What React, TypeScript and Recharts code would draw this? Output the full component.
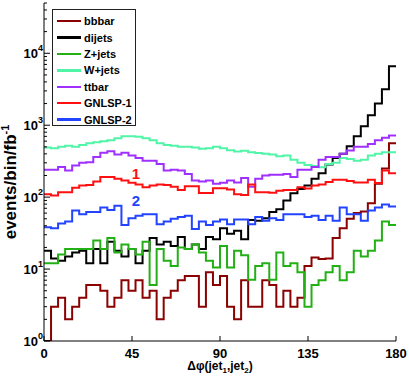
import { ComposedChart, Line, XAxis, YAxis, Legend, ReferenceDot } from 'recharts';

const W = 409;
const H = 382;
const BIN = 3.6; // degrees per bin, 50 bins over 0..180

const bbbar = [1, 3, 4, 2, 3, 4, 6, 6, 5, 3, 4, 7, 5, 7, 4, 5, 2, 4, 5, 7, 8, 8, 3, 9, 6, 8, 3, 2, 7, 3, 3, 7, 6, 3, 5, 3, 4, 11, 14.5, 13.8, 14, 27, 37, 50, 60, 63, 82, 153, 250, 560];
const dijets = [18, 14, 13, 15, 17, 18, 12, 19, 12, 24, 18, 15, 19, 12, 18, 27, 22, 24, 21, 28, 19, 22, 19, 28, 26, 37, 31, 34, 26, 48, 47, 51, 62, 68, 90, 113, 130, 145, 180, 215, 285, 350, 400, 510, 700, 970, 1370, 2000, 3160, 6600];
const zjets = [12, 12, 16, 19, 19, 19, 19, 25, 19, 27, 17, 22, 19, 16, 24, 6, 19, 13, 11, 20, 19, 22, 17, 13, 10.5, 21, 10.5, 18, 15.6, 7.1, 11, 12, 7.1, 17, 11, 12, 9, 3, 6, 7, 9, 11, 7, 9, 18, 15, 18, 25, 46, 41];
const wjets = [490, 480, 500, 520, 500, 530, 560, 580, 600, 620, 660, 700, 700, 690, 660, 620, 560, 530, 520, 500, 500, 490, 470, 480, 500, 480, 450, 430, 440, 420, 410, 400, 390, 370, 380, 330, 300, 280, 270, 260, 290, 300, 350, 340, 320, 330, 380, 400, 420, 420];
const ttbar = [240, 240, 262, 235, 275, 300, 305, 360, 415, 435, 390, 415, 380, 350, 320, 320, 290, 235, 240, 235, 210, 170, 165, 170, 153, 158, 170, 160, 185, 140, 180, 200, 205, 205, 210, 190, 240, 240, 262, 330, 360, 360, 400, 445, 500, 500, 550, 620, 670, 720];
const gnlsp1 = [110, 105, 117, 117, 135, 145, 148, 165, 190, 190, 180, 170, 158, 150, 137, 145, 150, 148, 140, 126, 142, 142, 114, 114, 133, 133, 128, 110, 107, 150, 117, 117, 115, 123, 126, 126, 137, 132, 145, 150, 162, 175, 175, 167, 160, 160, 175, 157, 235, 215];
const gnlsp2 = [38, 37, 43, 46, 65, 58, 62, 62, 72, 66, 76, 41, 51, 55, 58, 58, 42, 46, 50, 53, 55, 36, 46, 41, 46, 49, 42, 49, 49, 42, 53, 47, 51, 48, 58, 58, 58, 53, 55, 48, 55, 47, 72, 58, 58, 47, 65, 72, 79, 74];

const xTicks = [0, 45, 90, 135, 180];
const yTicks = [1, 2, 3, 4, 5, 6, 7, 8, 9, 10, 20, 30, 40, 50, 60, 70, 80, 90, 100, 200, 300, 400, 500, 600, 700, 800, 900, 1000, 2000, 3000, 4000, 5000, 6000, 7000, 8000, 9000, 10000, 20000, 30000, 40000, 50000];

const series = [
  { key: 'bbbar', name: 'bbbar', color: '#8b0000', values: bbbar },
  { key: 'dijets', name: 'dijets', color: '#000000', values: dijets },
  { key: 'zjets', name: 'Z+jets', color: '#22b014', values: zjets },
  { key: 'wjets', name: 'W+jets', color: '#50f5a8', values: wjets },
  { key: 'ttbar', name: 'ttbar', color: '#a030ff', values: ttbar },
  { key: 'gnlsp1', name: 'GNLSP-1', color: '#ff1010', values: gnlsp1 },
  { key: 'gnlsp2', name: 'GNLSP-2', color: '#2244ff', values: gnlsp2 },
];

// histogram edges: each bin value starts at its left edge, last value repeated at 180
const data = Array.from({ length: bbbar.length + 1 }, (_, i) => {
  const j = Math.min(i, bbbar.length - 1);
  const row: Record<string, number> = { x: i * BIN };
  series.forEach((s) => {
    row[s.key] = s.values[j];
  });
  return row;
});

const FONT = '"Liberation Sans", Arial, Helvetica, sans-serif';

function isMajor(v: number) {
  const e = Math.log10(v);
  return Math.abs(e - Math.round(e)) < 1e-6;
}

function LeftTick(props: any) {
  const { x, y, payload } = props;
  const major = isMajor(payload.value);
  return (
    <g>
      <line x1={x} x2={x + (major ? 6 : 3)} y1={y} y2={y} stroke="#000" />
      {major && (
        <text x={x - 1} y={y + 5} textAnchor="end" fontSize={13} fontWeight="bold" fill="#000" fontFamily={FONT}>
          10
          <tspan dy={-7} fontSize={9}>
            {Math.round(Math.log10(payload.value))}
          </tspan>
        </text>
      )}
    </g>
  );
}

function RightTick(props: any) {
  const { x, y, payload } = props;
  const major = isMajor(payload.value);
  return <line x1={x} x2={x - (major ? 6 : 3)} y1={y} y2={y} stroke="#000" />;
}

function BottomTick(props: any) {
  const { x, y, payload } = props;
  return (
    <g>
      <line x1={x} x2={x} y1={y} y2={y - 5} stroke="#000" />
      <text x={x} y={y + 17} textAnchor="middle" fontSize={13} fontWeight="bold" fill="#000" fontFamily={FONT}>
        {payload.value}
      </text>
    </g>
  );
}

function TopTick(props: any) {
  const { x, y } = props;
  return <line x1={x} x2={x} y1={y} y2={y + 5} stroke="#000" />;
}

function XLabel() {
  return (
    <text x={220} y={370} textAnchor="middle" fontSize={12} fontWeight="bold" fill="#000" fontFamily={FONT}>
      Δφ(jet
      <tspan dy={3} fontSize={8}>1</tspan>
      <tspan dy={-3}>,jet</tspan>
      <tspan dy={3} fontSize={8}>2</tspan>
      <tspan dy={-3}>)</tspan>
    </text>
  );
}

function YLabel() {
  return (
    <text
      x={16}
      y={182}
      transform="rotate(-90 16 182)"
      textAnchor="middle"
      fontSize={17}
      fontWeight="bold"
      fill="#000"
      fontFamily={FONT}
    >
      events/bin/fb
      <tspan dy={-7} fontSize={11}>-1</tspan>
    </text>
  );
}

function renderLegend() {
  return (
    <div style={{ padding: '3px 0 0 4px', fontFamily: FONT }}>
      {series.map((s) => (
        <div key={s.key} style={{ display: 'flex', alignItems: 'center', height: 16.4, whiteSpace: 'nowrap' }}>
          <span style={{ display: 'inline-block', width: 24, height: 2.5, background: s.color, marginRight: 3 }} />
          <span style={{ fontSize: 11, fontWeight: 'bold', color: '#000', lineHeight: '12px' }}>{s.name}</span>
        </div>
      ))}
    </div>
  );
}

export default function App() {
  return (
    <div style={{ position: 'absolute', left: 0, top: 0, background: '#fff', fontFamily: FONT }}>
      <ComposedChart width={W} height={H} data={data} margin={{ top: 3, right: 13, left: 0, bottom: 0 }}>
        <XAxis
          xAxisId="bottom"
          dataKey="x"
          type="number"
          domain={[0, 180]}
          ticks={xTicks}
          interval={0}
          height={41}
          tickSize={0}
          tickMargin={0}
          tickLine={false}
          axisLine={{ stroke: '#000' }}
          tick={<BottomTick />}
          label={<XLabel />}
        />
        <XAxis
          xAxisId="top"
          orientation="top"
          dataKey="x"
          type="number"
          domain={[0, 180]}
          ticks={xTicks}
          interval={0}
          height={0}
          tickSize={0}
          tickMargin={0}
          tickLine={false}
          axisLine={{ stroke: '#000' }}
          tick={<TopTick />}
        />
        <YAxis
          yAxisId="left"
          scale="log"
          type="number"
          domain={[1, 50000]}
          ticks={yTicks}
          interval={0}
          allowDataOverflow
          width={44}
          tickSize={0}
          tickMargin={0}
          tickLine={false}
          axisLine={{ stroke: '#000' }}
          tick={<LeftTick />}
          label={<YLabel />}
        />
        <YAxis
          yAxisId="right"
          orientation="right"
          scale="log"
          type="number"
          domain={[1, 50000]}
          ticks={yTicks}
          interval={0}
          allowDataOverflow
          width={0}
          tickSize={0}
          tickMargin={0}
          tickLine={false}
          axisLine={{ stroke: '#000' }}
          tick={<RightTick />}
        />
        <Legend
          layout="vertical"
          align="center"
          verticalAlign="middle"
          wrapperStyle={{
            left: 52,
            top: 9,
            width: 84,
            height: 117,
            border: '1px solid #222',
            background: '#fff',
            boxSizing: 'border-box',
          }}
          content={renderLegend}
        />
        {series.map((s) => (
          <Line
            key={s.key}
            xAxisId="bottom"
            yAxisId="left"
            type="stepAfter"
            dataKey={s.key}
            name={s.name}
            stroke={s.color}
            strokeWidth={2}
            dot={false}
            activeDot={false}
            isAnimationActive={false}
          />
        ))}
        <ReferenceDot
          xAxisId="bottom"
          yAxisId="left"
          x={47}
          y={210}
          r={0}
          label={{ value: '1', fill: '#ff1010', fontSize: 15, fontWeight: 'bold', fontFamily: FONT }}
        />
        <ReferenceDot
          xAxisId="bottom"
          yAxisId="left"
          x={47}
          y={88}
          r={0}
          label={{ value: '2', fill: '#2244ff', fontSize: 15, fontWeight: 'bold', fontFamily: FONT }}
        />
      </ComposedChart>
    </div>
  );
}
